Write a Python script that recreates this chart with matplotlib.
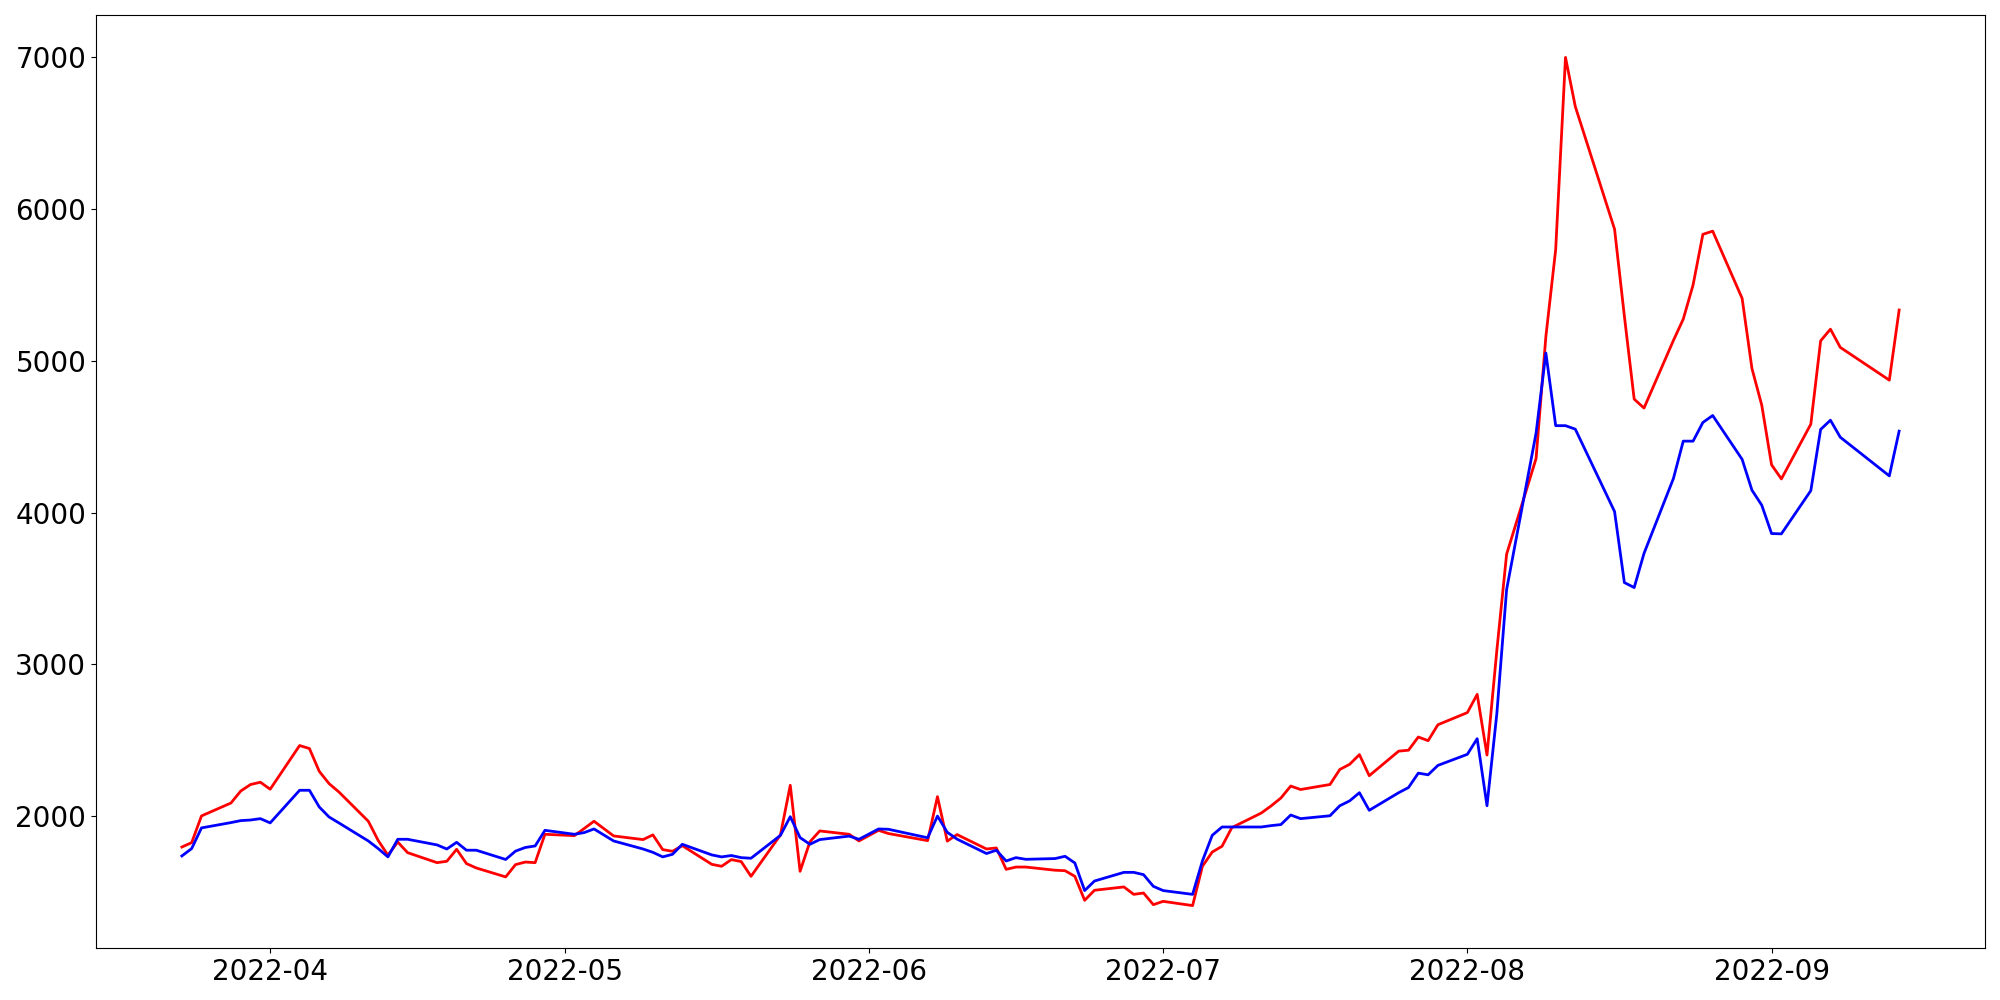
import matplotlib
matplotlib.use("Agg")
import matplotlib.pyplot as plt
import pandas as pd

# trading days (weekdays minus market holidays)
start_date = "2022-03-23"
end_date = "2022-09-14"
holidays = ["2022-05-05", "2022-06-01", "2022-06-06", "2022-08-15",
            "2022-09-09", "2022-09-12"]
dates = pd.bdate_range(start_date, end_date, freq="C", holidays=holidays)

# red series
red_mar = [1796, 1825, 2001, 2086, 2165, 2208, 2223]
red_apr = [2177, 2465, 2445, 2295, 2214, 2159, 1966, 1840, 1742, 1829, 1759,
           1693, 1702, 1781, 1687, 1658, 1599, 1680, 1697, 1693, 1880]
red_may = [1871, 1918, 1966, 1869, 1845, 1876, 1779, 1768, 1805, 1682, 1669,
           1713, 1700, 1603, 1876, 2203, 1636, 1830, 1902, 1880, 1836]
red_jun = [1906, 1885, 1838, 2128, 1835, 1878, 1783, 1790, 1649, 1664, 1664,
           1643, 1640, 1603, 1445, 1511, 1533, 1484, 1493, 1416]
red_jul = [1438, 1410, 1669, 1763, 1801, 1924, 2020, 2067, 2119, 2198, 2175,
           2208, 2307, 2341, 2405, 2266, 2428, 2434, 2521, 2497, 2602]
red_aug = [2682, 2802, 2402, 3090, 3726, 4356, 5160, 5733, 7000, 6676, 5868,
           5295, 4748, 4689, 5135, 5275, 5500, 5834, 5855, 5412, 4950, 4708]
red_sep = [4315, 4222, 4583, 5132, 5209, 5089, 4873, 5335]

# blue series
blue_mar = [1737, 1786, 1922, 1957, 1970, 1974, 1983]
blue_apr = [1955, 2170, 2170, 2060, 1994, 1955, 1836, 1786, 1731, 1847, 1847,
            1810, 1783, 1827, 1775, 1775, 1714, 1769, 1793, 1803, 1906]
blue_may = [1880, 1891, 1915, 1836, 1783, 1761, 1731, 1748, 1814, 1744, 1731,
            1740, 1726, 1722, 1873, 1996, 1858, 1814, 1845, 1868, 1847]
blue_jun = [1915, 1913, 1857, 2000, 1893, 1848, 1753, 1775, 1704, 1726, 1715,
            1720, 1735, 1691, 1509, 1572, 1629, 1629, 1614, 1537]
blue_jul = [1509, 1484, 1704, 1873, 1928, 1928, 1928, 1937, 1944, 2007, 1983,
            2002, 2068, 2100, 2154, 2038, 2154, 2188, 2283, 2272, 2334]
blue_aug = [2407, 2510, 2068, 2673, 3493, 4523, 5052, 4573, 4573, 4550, 4007,
            3539, 3506, 3731, 4225, 4471, 4471, 4594, 4640, 4351, 4148, 4049]
blue_sep = [3862, 3860, 4145, 4548, 4609, 4497, 4242, 4537]

red = red_mar + red_apr + red_may + red_jun + red_jul + red_aug + red_sep
blue = blue_mar + blue_apr + blue_may + blue_jun + blue_jul + blue_aug + blue_sep

fig, ax = plt.subplots(figsize=(20, 10), dpi=100)

ax.plot(dates, red, color="red", linewidth=2)
ax.plot(dates, blue, color="blue", linewidth=2)

ax.tick_params(axis="both", labelsize=20)

fig.subplots_adjust(left=0.048, right=0.9925, bottom=0.052, top=0.985)
fig.savefig("out.png")
